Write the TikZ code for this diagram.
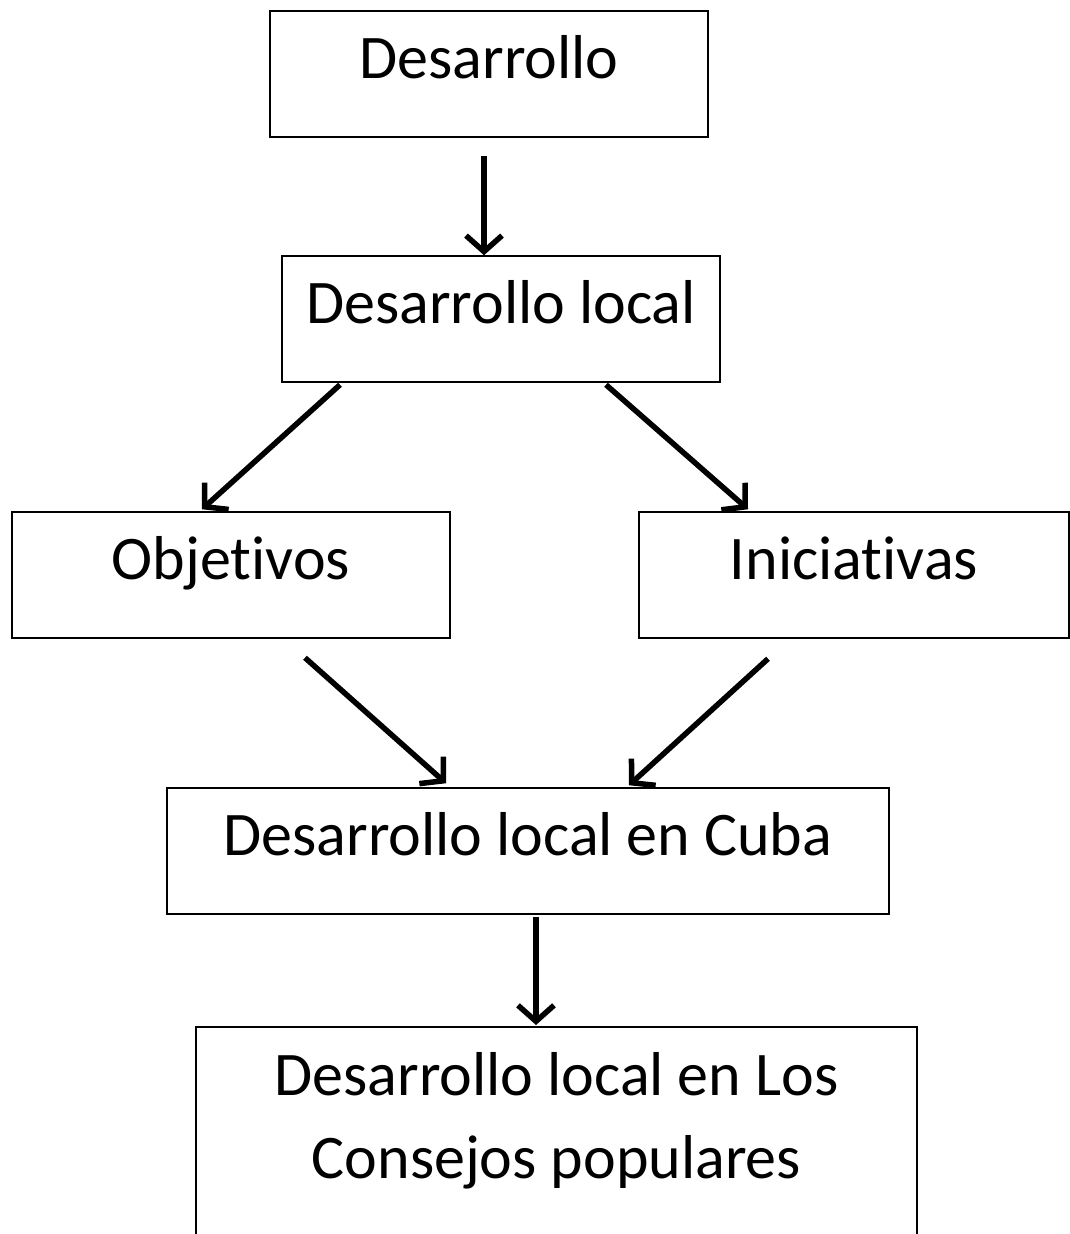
\documentclass[tikz,border=0pt]{standalone}
\usepackage{fontspec}
\setmainfont{Carlito}[Ligatures=NoCommon]
\usepackage{tikz}
\usetikzlibrary{arrows.meta}
\usetikzlibrary{positioning}

\begin{document}
\begin{tikzpicture}[x=1pt,y=-1pt,
    caja/.style={draw, line width=1.5pt, inner sep=0pt, text height=67pt, text depth=59pt,
        minimum width=438pt, font=\fontsize{62}{83}\selectfont},
    flecha/.style={line width=5.5pt, -{Straight Barb[length=16pt,width=36pt]}}]
        \useasboundingbox (0,0) rectangle (1070,1234);
        \node[caja] (D) at (489,74) {Desarrollo};
        \node[caja] (DL) at (501,319) {Desarrollo local};
        \node[caja] (O) at (231,575) {Objetivos};
        \node[caja, minimum width=430pt] (I) at (854,575) {Iniciativas};
        \node[caja, minimum width=722pt] (DC) at (528,851) {Desarrollo local en Cuba};
        \node[caja, minimum width=721pt, text height=69pt, text depth=200pt, anchor=north] (DP) at (556.5,1026)
            {\begin{tabular}[t]{@{}c@{}}Desarrollo local en Los\\ Consejos populares\end{tabular}};
        \draw[flecha] ([shift={(-5,18)}]D.south) -- ([shift={(-17,0)}]DL.north);
        \draw[flecha] ([shift={(-161,2)}]DL.south) -- ([shift={(-29,-2)}]O.north);
        \draw[flecha] ([shift={(105,2)}]DL.south) -- ([shift={(-106,-2)}]I.north);
        \draw[flecha] ([shift={(74,19)}]O.south) -- ([shift={(-82,-4)}]DC.north);
        \draw[flecha] ([shift={(-86,20)}]I.south) -- ([shift={(101,-2)}]DC.north);
        \draw[flecha] ([shift={(8,2)}]DC.south) -- ([shift={(-20.5,-1)}]DP.north);
    \end{tikzpicture}
\end{document}
